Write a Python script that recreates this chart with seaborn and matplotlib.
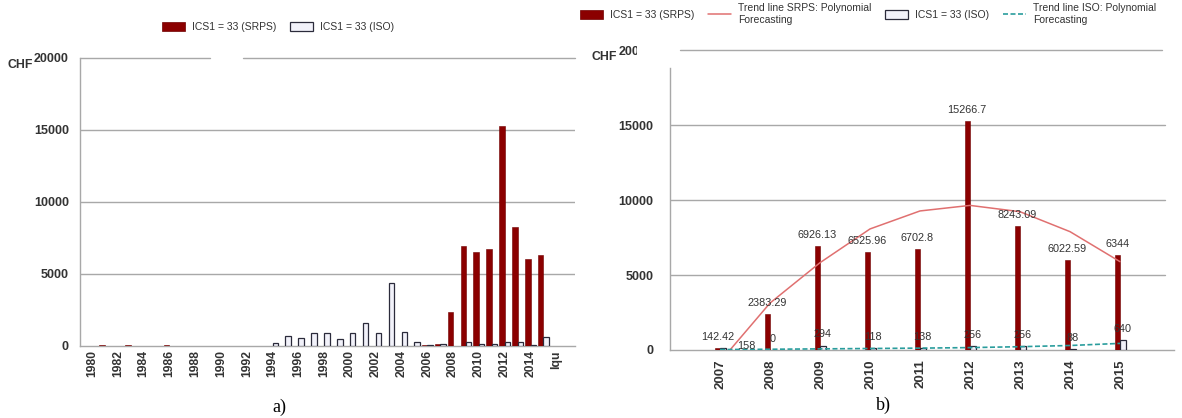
import numpy as np
import pandas as pd
import matplotlib
matplotlib.use("Agg")
import matplotlib.pyplot as plt
import seaborn as sns
from matplotlib.patches import Patch, Rectangle
from matplotlib.lines import Line2D

sns.set_theme(style="white")
plt.rcParams["font.family"] = ["Liberation Sans", "DejaVu Sans"]

# ---- data, panel a) ----
years_a = [str(y) for y in range(1980, 2016)] + ["lqu"]
srps_a = [20, 60, 20, 80, 30, 30, 40, 0, 20, 0, 20, 0, 0, 0,
          0, 0, 0, 0, 0, 0, 0, 0, 0, 0, 0, 0,
          80, 142.42, 2383.29, 6926.13, 6525.96, 6702.8, 15266.7, 8243.09, 6022.59, 6344,
          30]
iso_a = [0, 0, 0, 0, 0, 0, 0, 0, 0, 0, 0, 0, 0, 0,
         230, 700, 530, 880, 900, 510, 900, 1570, 900, 4400, 1000, 250, 100,
         158, 0, 294, 118, 138, 256, 256, 88, 640,
         0]

# ---- data, panel b) ----
years_b = ["2007", "2008", "2009", "2010", "2011", "2012", "2013", "2014", "2015"]
srps_b = [142.42, 2383.29, 6926.13, 6525.96, 6702.8, 15266.7, 8243.09, 6022.59, 6344]
iso_b = [158, 0, 294, 118, 138, 256, 256, 88, 640]
trend_srps = [-780, 3130, 5820, 8070, 9270, 9640, 9220, 7890, 5890]
trend_iso = [30, 50, 75, 100, 125, 160, 220, 300, 440]

lab_srps = "ICS1 = 33 (SRPS)"
lab_iso = "ICS1 = 33 (ISO)"
lab_tr_srps = "Trend line SRPS: Polynomial\nForecasting"
lab_tr_iso = "Trend line ISO: Polynomial\nForecasting"

RED = "#8b0000"
ISO_FILL = "#f2f2fa"
ISO_EDGE = "#2b2b3b"
TREND_RED = "#e07070"
TREND_ISO = "#2a9d9d"
GRID = "#a8a8a8"
TXT = "#333333"

df_a = pd.DataFrame({
    "year": years_a * 2,
    "value": srps_a + iso_a,
    "series": [lab_srps] * len(years_a) + [lab_iso] * len(years_a),
})
df_b = pd.DataFrame({
    "year": years_b * 2,
    "value": srps_b + iso_b,
    "series": [lab_srps] * len(years_b) + [lab_iso] * len(years_b),
})

fig = plt.figure(figsize=(11.82, 4.18), dpi=100)
ax1 = fig.add_axes([80 / 1182, 1 - 346 / 418, 495 / 1182, 288 / 418])
ax2 = fig.add_axes([670 / 1182, 1 - 350 / 418, 504 / 1182, 300 / 418])

pal = {lab_srps: RED, lab_iso: ISO_FILL}


def style_bars(ax):
    for bar in ax.containers[0]:
        bar.set_edgecolor("#700000")
        bar.set_linewidth(0.4)
        bar.set_zorder(3)
    for bar in ax.containers[1]:
        bar.set_edgecolor(ISO_EDGE)
        bar.set_linewidth(0.9 if bar.get_height() > 0 else 0)
        bar.set_zorder(3)


def style_axes(ax):
    ax.set_ylim(0, 20000)
    ax.set_xlabel("")
    ax.set_ylabel("")
    for s in ["top", "right"]:
        ax.spines[s].set_visible(False)
    for s in ["left", "bottom"]:
        ax.spines[s].set_color(GRID)
        ax.spines[s].set_linewidth(1)
    ax.set_yticks([0, 5000, 10000, 15000, 20000])
    ax.tick_params(axis="y", direction="out", length=6, width=1, color=GRID,
                   labelsize=9, labelcolor=TXT, pad=2)
    for t in ax.get_yticklabels():
        t.set_fontweight("bold")


# ---- panel a) ----
sns.barplot(data=df_a, x="year", y="value", hue="series", hue_order=[lab_srps, lab_iso],
            palette=pal, width=0.85, saturation=1, legend=False, ax=ax1, errorbar=None)
style_bars(ax1)
style_axes(ax1)
ax1.set_xlim(-0.93, 37.45)
ticks_a = list(range(0, len(years_a), 2))
ax1.set_xticks(ticks_a)
ax1.set_xticklabels([years_a[i] for i in ticks_a], rotation=90, fontsize=8.7,
                    fontweight="bold", color=TXT)
ax1.tick_params(axis="x", length=0, pad=3)
for v in [5000, 10000, 15000]:
    ax1.axhline(v, color=GRID, lw=1, zorder=0)
ax1.axhline(20000, xmax=0.263, color=GRID, lw=1, zorder=0, clip_on=False)
ax1.axhline(20000, xmin=0.329, color=GRID, lw=1, zorder=0, clip_on=False)

# ---- panel b) ----
sns.barplot(data=df_b, x="year", y="value", hue="series", hue_order=[lab_srps, lab_iso],
            palette=pal, width=0.22, saturation=1, legend=False, ax=ax2, errorbar=None)
style_bars(ax2)
xpos = np.arange(len(years_b))
sns.lineplot(x=xpos, y=trend_srps, color=TREND_RED, lw=1.1, ax=ax2, zorder=4)
sns.lineplot(x=xpos, y=trend_iso, color=TREND_ISO, lw=1.2, ls=(0, (3, 1.5)), ax=ax2, zorder=4)
style_axes(ax2)
ax2.set_xlim(-1, 9.08)
ax2.set_xticks(xpos)
ax2.set_xticklabels(years_b, rotation=90, fontsize=9.5, fontweight="bold", color=TXT)
ax2.tick_params(axis="x", direction="out", length=4, width=1, color=GRID, pad=3)
ax2.tick_params(axis="y", length=10)
ax2.spines["left"].set_bounds(0, 18800)
for v in [5000, 10000, 15000]:
    ax2.axhline(v, xmax=0.982, color=GRID, lw=1, zorder=0)
ax2.axhline(20000, xmin=0.02, xmax=0.976, color=GRID, lw=1, zorder=0, clip_on=False)

# value labels
for bar, v in zip(ax2.containers[0], srps_b):
    ax2.annotate(f"{v:g}", (bar.get_x() + bar.get_width() / 2, v), xytext=(0, 8),
                 textcoords="offset points", ha="center", va="center",
                 fontsize=7.8, color=TXT, zorder=6)
for i, (bar, v) in enumerate(zip(ax2.containers[1], iso_b)):
    off = (17, 1) if i == 0 else (0, 8)
    ax2.annotate(f"{v:g}", (bar.get_x() + bar.get_width() / 2, v), xytext=off,
                 textcoords="offset points", ha="center", va="center",
                 fontsize=7.8, color=TXT, zorder=6)

# the top tick label of panel b is partly hidden in the source image
fig.add_artist(Rectangle((637 / 1182, 1 - 60 / 418), 31 / 1182, 22 / 418,
                         transform=fig.transFigure, facecolor="white",
                         edgecolor="none", zorder=10))

# axis unit labels
fig.text(8 / 1182, 1 - 65 / 418, "CHF", fontsize=8.8, fontweight="bold", color=TXT,
         ha="left", va="center")
fig.text(592 / 1182, 1 - 57 / 418, "CHF", fontsize=8.8, fontweight="bold", color=TXT,
         ha="left", va="center")

# legends
h_srps = Patch(facecolor=RED, edgecolor="#700000", lw=0.5)
h_iso = Patch(facecolor=ISO_FILL, edgecolor=ISO_EDGE, lw=0.9)
h_tr_srps = Line2D([], [], color=TREND_RED, lw=1.1)
h_tr_iso = Line2D([], [], color=TREND_ISO, lw=1.2, ls=(0, (3, 1.5)))

leg_kw = dict(frameon=False, fontsize=7.5, handlelength=2.2, handleheight=0.9,
              handletextpad=0.7, columnspacing=1.3, borderpad=0, labelcolor=TXT)
fig.legend([h_srps, h_iso], [lab_srps, lab_iso], loc="center", ncol=2,
           bbox_to_anchor=(278 / 1182, 1 - 27 / 418), **leg_kw)
fig.legend([h_srps, h_tr_srps, h_iso, h_tr_iso], [lab_srps, lab_tr_srps, lab_iso, lab_tr_iso],
           loc="center", ncol=4, bbox_to_anchor=(868 / 1182, 1 - 14 / 418), **leg_kw)

# panel captions
fig.text(279 / 1182, 1 - 407 / 418, "a)", fontsize=13, family="Liberation Serif",
         ha="center", va="center", color="black")
fig.text(883 / 1182, 1 - 405 / 418, "b)", fontsize=13, family="Liberation Serif",
         ha="center", va="center", color="black")

fig.savefig("out.png", dpi=100)
